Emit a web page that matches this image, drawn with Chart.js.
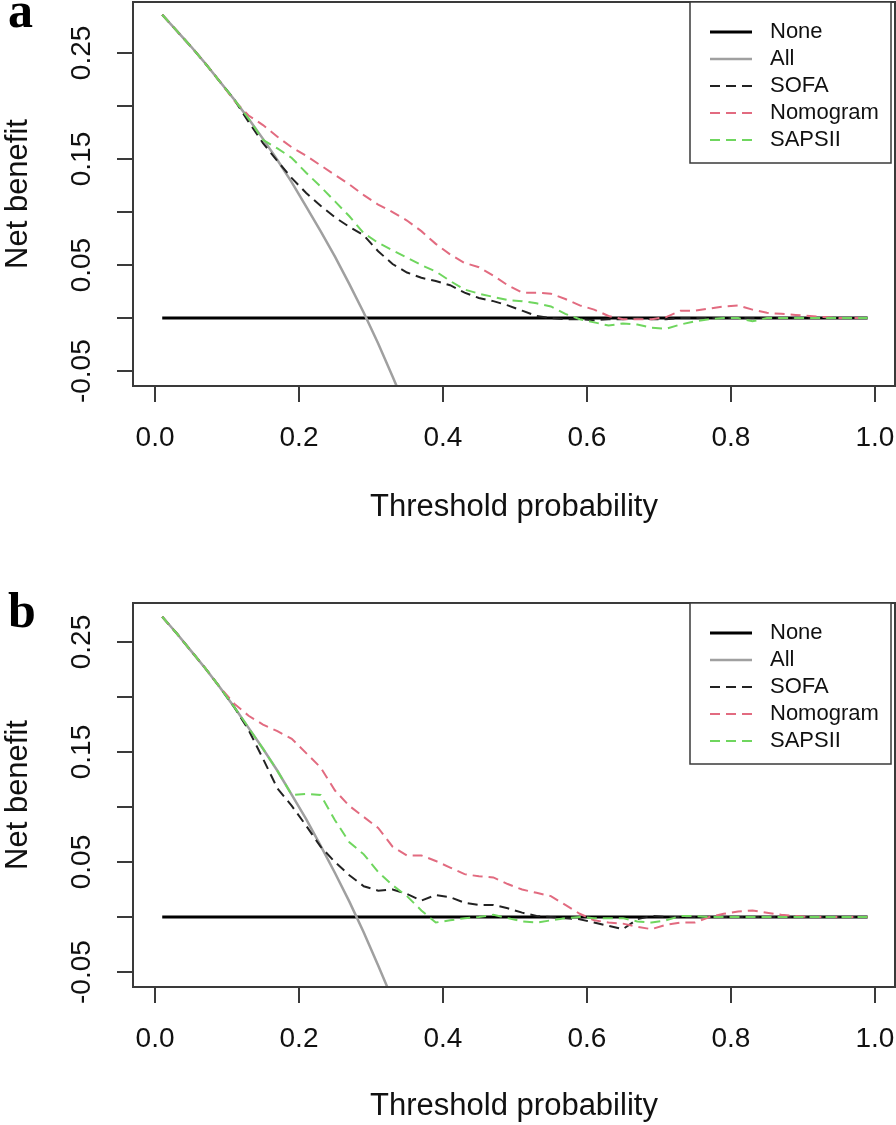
<!DOCTYPE html>
<html>
<head>
<meta charset="utf-8">
<script src="https://cdn.jsdelivr.net/npm/chart.js@4.4.0/dist/chart.umd.min.js"></script>
<style>
  body { margin: 0; background: #fff; }
  #wrap { position: relative; width: 896px; height: 1125px; }
  canvas { position: absolute; left: 0; }
  #chartA { top: 0; }
  #chartB { top: 560px; }
</style>
</head>
<body>
<div id="wrap">
  <canvas id="chartA" width="896" height="530"></canvas>
  <canvas id="chartB" width="896" height="565"></canvas>
</div>
<script>
// Decision curves (threshold probability vs net benefit)

var thresholds = [0.01, 0.03, 0.05, 0.07, 0.09, 0.11, 0.13, 0.15, 0.17, 0.19,
                  0.21, 0.23, 0.25, 0.27, 0.29, 0.31, 0.33, 0.35, 0.37, 0.39,
                  0.41, 0.43, 0.45, 0.47, 0.49, 0.51, 0.53, 0.55, 0.57, 0.59,
                  0.61, 0.63, 0.65, 0.67, 0.69, 0.71, 0.73, 0.75, 0.77, 0.79,
                  0.81, 0.83, 0.85, 0.87, 0.89, 0.91, 0.93, 0.95, 0.97, 0.99];

var noneX = [0.01, 0.99];
var noneY = [0, 0];

var xTicks = [0, 0.2, 0.4, 0.6, 0.8, 1.0];
var xTickLabels = ['0.0', '0.2', '0.4', '0.6', '0.8', '1.0'];
var yTicks = [-0.05, 0, 0.05, 0.10, 0.15, 0.20, 0.25];
var yTickLabels = ['-0.05', '', '0.05', '', '0.15', '', '0.25'];

// panel a
var allA = [0.286, 0.271, 0.256, 0.240, 0.223, 0.206, 0.188, 0.169, 0.149, 0.128,
            0.105, 0.082, 0.058, 0.032, 0.005, -0.024, -0.055, -0.087];
var sofaA = [0.286, 0.271, 0.256, 0.240, 0.223, 0.206, 0.185, 0.165, 0.148, 0.132,
             0.118, 0.106, 0.095, 0.086, 0.078, 0.063, 0.051, 0.043, 0.038, 0.035,
             0.031, 0.024, 0.019, 0.016, 0.012, 0.007, 0.002, 0.000, -0.001, -0.001,
             -0.002, -0.001, -0.001, 0.000, -0.001, -0.001, 0.000, 0, 0, 0,
             0, 0, 0, 0, 0, 0, 0, 0, 0, 0];
var nomoA = [0.286, 0.271, 0.256, 0.240, 0.223, 0.205, 0.191, 0.182, 0.171, 0.161,
             0.153, 0.144, 0.135, 0.126, 0.116, 0.107, 0.100, 0.092, 0.082, 0.070,
             0.060, 0.052, 0.048, 0.040, 0.031, 0.024, 0.024, 0.023, 0.018, 0.012,
             0.008, 0.002, -0.001, -0.001, -0.001, 0.001, 0.007, 0.007, 0.009, 0.011,
             0.012, 0.008, 0.005, 0.004, 0.003, 0.002, 0.001, 0, 0, 0];
var sapsA = [0.286, 0.271, 0.256, 0.240, 0.223, 0.206, 0.188, 0.168, 0.160, 0.151,
             0.137, 0.124, 0.110, 0.096, 0.080, 0.071, 0.064, 0.057, 0.050, 0.044,
             0.035, 0.027, 0.023, 0.020, 0.017, 0.016, 0.014, 0.011, 0.004, -0.001,
             -0.004, -0.007, -0.005, -0.006, -0.009, -0.010, -0.006, -0.003, -0.001, 0,
             0, -0.003, 0, 0, 0, 0, 0, 0, 0, 0];

// panel b
var allB = [0.273, 0.258, 0.242, 0.226, 0.209, 0.191, 0.172, 0.153, 0.133, 0.111,
            0.089, 0.065, 0.040, 0.014, -0.014, -0.044, -0.075];
var sofaB = [0.273, 0.258, 0.242, 0.226, 0.209, 0.191, 0.170, 0.144, 0.117, 0.101,
             0.083, 0.064, 0.050, 0.038, 0.028, 0.024, 0.025, 0.021, 0.015, 0.020,
             0.018, 0.013, 0.011, 0.011, 0.008, 0.004, 0.001, 0, -0.001, -0.002,
             -0.005, -0.008, -0.011, -0.002, 0.001, 0, 0, 0, 0, 0,
             0, 0, 0, 0, 0, 0, 0, 0, 0, 0];
var nomoB = [0.273, 0.258, 0.242, 0.226, 0.209, 0.194, 0.183, 0.175, 0.169, 0.162,
             0.149, 0.136, 0.115, 0.101, 0.091, 0.081, 0.064, 0.056, 0.056, 0.051,
             0.045, 0.039, 0.037, 0.036, 0.030, 0.025, 0.022, 0.019, 0.011, 0.003,
             -0.003, -0.005, -0.006, -0.009, -0.011, -0.007, -0.005, -0.005, 0.000, 0.003,
             0.005, 0.006, 0.004, 0.002, 0.001, 0, 0, 0, 0, 0];
var sapsB = [0.273, 0.258, 0.242, 0.226, 0.209, 0.191, 0.172, 0.153, 0.133, 0.111,
             0.112, 0.111, 0.088, 0.068, 0.057, 0.041, 0.029, 0.019, 0.006, -0.005,
             -0.003, -0.001, 0, 0.002, -0.001, -0.004, -0.005, -0.003, -0.001, 0,
             -0.001, -0.001, -0.001, -0.004, -0.005, -0.003, 0.001, 0.001, 0, 0,
             0, 0, 0, 0, 0, 0, 0, 0, 0, 0];

Chart.defaults.font.family = '"Liberation Sans", Arial, sans-serif';

function series(xs, ys) {
    return ys.map(function (y, i) { return { x: xs[i], y: y }; });
}

// box round the plot, the R-style legend and the panel letter
var rFrame = {
    id: 'rFrame',
    afterDatasetsDraw: function (chart, args, opts) {
        var ctx = chart.ctx, a = chart.chartArea;
        ctx.save();
        ctx.strokeStyle = '#3a3a3a';
        ctx.lineWidth = 2;
        ctx.strokeRect(a.left, a.top, a.right - a.left, a.bottom - a.top);

        var lx = 690, ly = a.top, lw = 201, lh = 161;
        ctx.fillStyle = '#fff';
        ctx.fillRect(lx, ly, lw, lh);
        ctx.lineWidth = 1.5;
        ctx.strokeRect(lx, ly, lw, lh);
        chart.data.datasets.forEach(function (ds, i) {
            var y = ly + 30 + i * 27;
            ctx.strokeStyle = ds.borderColor;
            ctx.lineWidth = ds.borderWidth;
            ctx.setLineDash(ds.borderDash || []);
            ctx.beginPath();
            ctx.moveTo(710, y);
            ctx.lineTo(752, y);
            ctx.stroke();
            ctx.setLineDash([]);
            ctx.fillStyle = '#111';
            ctx.font = '22px "Liberation Sans", Arial, sans-serif';
            ctx.textAlign = 'left';
            ctx.textBaseline = 'middle';
            ctx.fillText(ds.label, 770, y);
        });

        ctx.fillStyle = '#000';
        ctx.font = 'bold 50px "Liberation Serif", "Times New Roman", serif';
        ctx.textBaseline = 'alphabetic';
        ctx.fillText(opts.letter, 8, opts.letterY);
        ctx.restore();
    }
};

function makeChart(id, p) {
    var tickFont = { size: 28 };
    var titleFont = { size: 31 };
    var gridOpts = { drawOnChartArea: false, drawTicks: true, tickLength: 16, color: '#3a3a3a', lineWidth: 2 };
    return new Chart(document.getElementById(id).getContext('2d'), {
        type: 'line',
        data: {
            datasets: [
                { label: 'None', data: series(noneX, noneY), borderColor: '#000000', borderWidth: 3, order: 5 },
                { label: 'All', data: series(thresholds, p.all), borderColor: '#a0a0a0', borderWidth: 2.5, order: 4 },
                { label: 'SOFA', data: series(thresholds, p.sofa), borderColor: '#222222', borderWidth: 2, borderDash: [10, 6], order: 3 },
                { label: 'Nomogram', data: series(thresholds, p.nomo), borderColor: '#E26B80', borderWidth: 2, borderDash: [10, 6], order: 2 },
                { label: 'SAPSII', data: series(thresholds, p.saps), borderColor: '#6FD65E', borderWidth: 2, borderDash: [10, 6], order: 1 }
            ]
        },
        options: {
            responsive: false,
            animation: false,
            devicePixelRatio: 1,
            elements: { point: { radius: 0 }, line: { tension: 0 } },
            layout: { padding: { top: p.padTop, right: 1, left: 0, bottom: 0 } },
            plugins: {
                legend: { display: false },
                tooltip: { enabled: false },
                rFrame: { letter: p.letter, letterY: p.letterY }
            },
            scales: {
                x: {
                    type: 'linear',
                    min: -0.0306,
                    max: 1.028,
                    afterBuildTicks: function (s) { s.ticks = xTicks.map(function (v) { return { value: v }; }); },
                    afterFit: function (s) { s.height = p.xHeight; s.paddingLeft = 0; s.paddingRight = 0; },
                    ticks: {
                        callback: function (v, i) { return xTickLabels[i]; },
                        font: tickFont, color: '#111', padding: 19, autoSkip: false, maxRotation: 0
                    },
                    grid: gridOpts,
                    border: { display: false },
                    title: { display: true, text: 'Threshold probability', font: titleFont, color: '#111',
                             padding: { top: 0, bottom: p.titlePad } }
                },
                y: {
                    min: p.yMin,
                    max: p.yMax,
                    afterBuildTicks: function (s) { s.ticks = yTicks.map(function (v) { return { value: v }; }); },
                    afterFit: function (s) { s.width = 133; s.paddingTop = 0; s.paddingBottom = 0; },
                    ticks: {
                        callback: function (v, i) { return yTickLabels[i]; },
                        font: tickFont, color: '#111', padding: 3, autoSkip: false,
                        minRotation: 90, maxRotation: 90, crossAlign: 'center'
                    },
                    grid: gridOpts,
                    border: { display: false },
                    title: { display: true, text: 'Net benefit', font: titleFont, color: '#111',
                             padding: { top: 0, bottom: 0 } }
                }
            }
        },
        plugins: [rFrame]
    });
}

makeChart('chartA', {
    all: allA, sofa: sofaA, nomo: nomoA, saps: sapsA,
    yMin: -0.064, yMax: 0.298, padTop: 2, xHeight: 144, titlePad: 4,
    letter: 'a', letterY: 27
});
makeChart('chartB', {
    all: allB, sofa: sofaB, nomo: nomoB, saps: sapsB,
    yMin: -0.0636, yMax: 0.2855, padTop: 43, xHeight: 138, titlePad: 0,
    letter: 'b', letterY: 67
});
</script>
</body>
</html>
